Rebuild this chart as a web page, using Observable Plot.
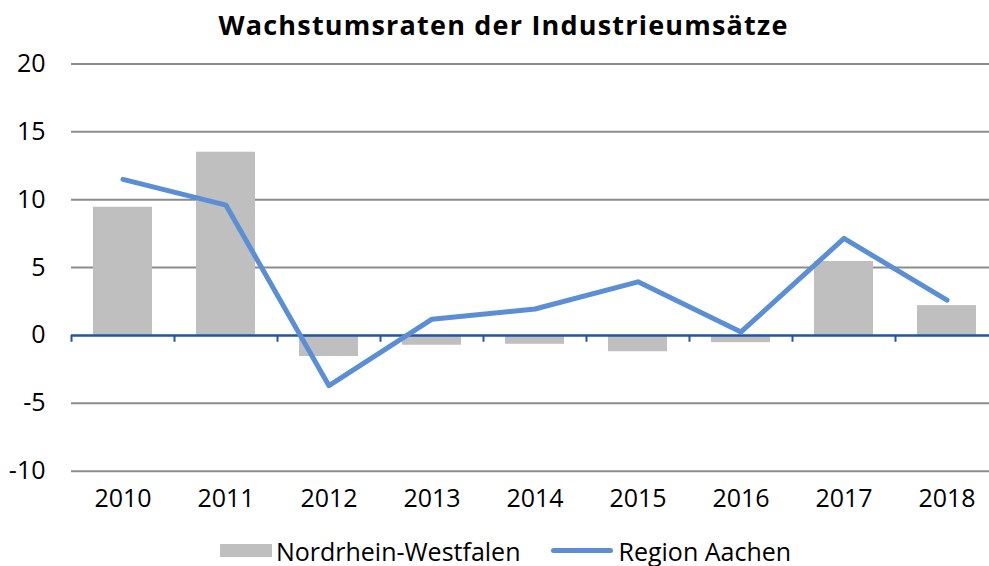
<!DOCTYPE html>
<html>
<head>
<meta charset="utf-8">
<script src="https://cdn.jsdelivr.net/npm/d3@7"></script>
<script src="https://cdn.jsdelivr.net/npm/@observablehq/plot@0.6"></script>
<style>
  html, body { margin: 0; padding: 0; background: #fff; overflow: hidden; }
  body { width: 989px; height: 566px; font-family: "Open Sans", "Noto Sans", sans-serif; color: #000; }
  #title { height: 45px; line-height: 45px; padding-top: 2px; box-sizing: border-box; text-align: center; font-weight: bold; font-size: 27px; letter-spacing: 1.2px; padding-left: 18px; white-space: nowrap; }
  #chart svg { display: block; }
  #legend { display: flex; justify-content: center; align-items: center; height: 41px; padding-top: 10px; box-sizing: border-box; font-size: 25px; padding-left: 22px; white-space: nowrap; }
  .sw-bar { width: 52px; height: 13px; background: #bfbfbf; margin-right: 4px; }
  .sw-line { width: 62px; height: 5px; border-radius: 3px; background: #5a8fd6; margin-left: 31px; margin-right: 5px; }
</style>
</head>
<body>
<div id="title">Wachstumsraten der Industrieumsätze</div>
<div id="chart"></div>
<div id="legend"><span class="sw-bar"></span><span>Nordrhein-Westfalen</span><span class="sw-line"></span><span>Region Aachen</span></div>
<script>
const years = ["2010", "2011", "2012", "2013", "2014", "2015", "2016", "2017", "2018"];
const nrw = [9.45, 13.5, -1.55, -0.72, -0.65, -1.2, -0.53, 5.45, 2.2];
const aachen = [11.5, 9.6, -3.7, 1.2, 1.95, 3.95, 0.26, 7.15, 2.6];
const yTicks = [-10, -5, 0, 5, 10, 15, 20];

const data = years.map((year, i) => ({year, nrw: nrw[i], aachen: aachen[i]}));

const chart = Plot.plot({
  width: 989,
  height: 480,
  marginLeft: 71,
  marginRight: 0,
  marginTop: 18.5,
  marginBottom: 54.3,
  style: {fontSize: "25px", fontFamily: "'Open Sans', 'Noto Sans', sans-serif", color: "#000", background: "#fff"},
  x: {type: "band", domain: years, range: [71, 998], paddingInner: 0.43, paddingOuter: 0.215, label: null},
  y: {domain: [-10, 20], label: null},
  marks: [
    Plot.ruleY(yTicks.filter(d => d !== 0), {stroke: "#8c8c8c", strokeWidth: 2}),
    Plot.barY(data, {x: "year", y: "nrw", fill: "#bfbfbf"}),
    Plot.ruleY([0], {stroke: "#1f55a4", strokeWidth: 2.5}),
    Plot.ruleX(years, {x: d => d, y1: 0, y2: -0.5, dx: -51.5, stroke: "#1f55a4", strokeWidth: 2}),
    Plot.line(data, {x: "year", y: "aachen", stroke: "#5a8fd6", strokeWidth: 5, strokeLinecap: "round", strokeLinejoin: "round"}),
    Plot.axisX({ticks: years, tickSize: 0, tickPadding: 18, fill: "#000", label: null}),
    Plot.axisY({ticks: yTicks, tickSize: 0, tickPadding: 26, fill: "#000", label: null, tickFormat: d => String(d)})
  ]
});
document.getElementById("chart").appendChild(chart);
</script>
</body>
</html>
